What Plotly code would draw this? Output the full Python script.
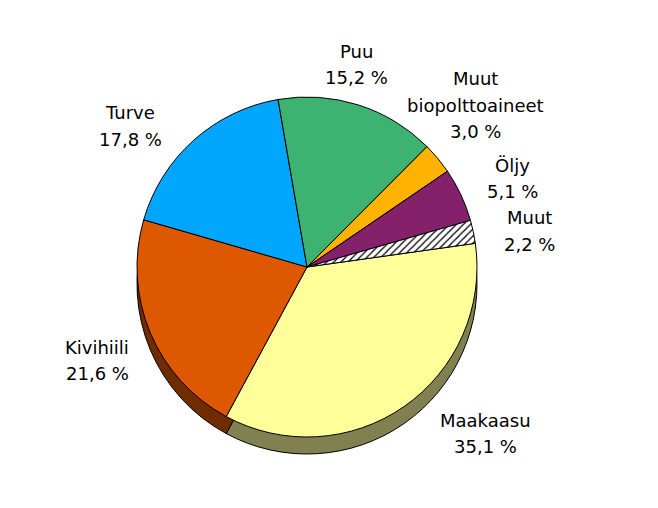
import plotly.graph_objects as go

# energy sources, share of total (%)
labels = ["Maakaasu", "Kivihiili", "Turve", "Puu",
          "Muut biopolttoaineet", "Öljy", "Muut"]
shown = ["Maakaasu", "Kivihiili", "Turve", "Puu",
         "Muut<br>biopolttoaineet", "Öljy", "Muut"]
values = [35.1, 21.6, 17.8, 15.2, 3.0, 5.1, 2.2]

colors = ["#FFFF99", "#DD5800", "#00A6FF", "#3CB371",
          "#FFB300", "#85206B", "#FFFFFF"]
shadow = ["#808050", "#6E2C00", "#005380", "#1E5A38",
          "#805A00", "#431036", "#808080"]
patterns = ["", "", "", "", "", "", "/"]

# where each label sits (centre of its first line, in pixels)
label_xy = [(485, 420), (97, 347), (130, 113), (357, 52),
            (475, 79), (512, 165), (529, 218)]

pct = [f"{v:.1f}".replace(".", ",") + " %" for v in values]

W, H = 658, 508
off = 8                      # page body margin
cx, cy, r, depth = 307 - off, 267 - off, 170, 17
line_gap = 26


def dom(dy=0):
    return dict(x=[(cx - r) / W, (cx + r) / W],
                y=[(H - cy - dy - r) / H, (H - cy - dy + r) / H])


# extruded side of the pie, drawn underneath
base = go.Pie(labels=labels, values=values, sort=False, direction="clockwise",
              rotation=82, domain=dom(depth), textinfo="none", hoverinfo="skip",
              marker=dict(colors=shadow, line=dict(color="black", width=1)),
              showlegend=False)

top = go.Pie(labels=labels, values=values, sort=False, direction="clockwise",
             rotation=82, domain=dom(), textinfo="none", hoverinfo="skip",
             marker=dict(colors=colors, line=dict(color="black", width=1),
                         pattern=dict(shape=patterns, fgcolor="black",
                                      bgcolor="white", size=5, solidity=0.25)),
             showlegend=False)

annotations = []
for name, p, (lx, ly) in zip(shown, pct, label_xy):
    for i, line in enumerate(name.split("<br>") + [p]):
        annotations.append(dict(
            text=line, x=(lx - off) / W, y=1 - (ly - off + i * line_gap) / H,
            xref="paper", yref="paper", xanchor="center", yanchor="middle",
            showarrow=False,
            font=dict(family="DejaVu Sans", size=18, color="black")))

fig = go.Figure(data=[base, top])
fig.update_layout(width=W, height=H, margin=dict(l=0, r=0, t=0, b=0),
                  paper_bgcolor="white", plot_bgcolor="white",
                  font=dict(family="DejaVu Sans"), annotations=annotations)

fig.write_html("out.html")
